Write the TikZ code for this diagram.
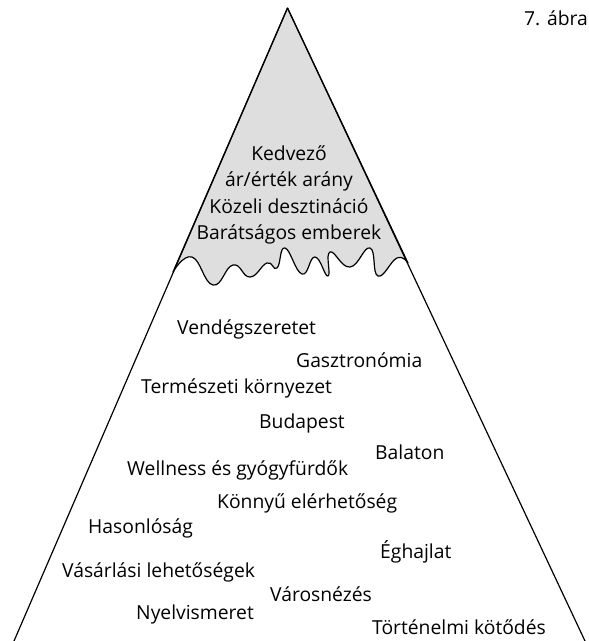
\documentclass[tikz,border=0pt]{standalone}
\usepackage{fontspec}
\setmainfont{Open Sans}
\definecolor{capgray}{HTML}{DEDEDE}
\begin{document}
\begin{tikzpicture}[x=1pt,y=-1pt,
  lbl/.style={anchor=west, inner sep=0pt, font=\fontsize{19.3}{22}\selectfont},
  captext/.style={align=center, inner sep=0pt, font=\fontsize{19.3}{26.5}\selectfont},
  edge/.style={line width=1.2pt, line join=round}]
\useasboundingbox (0,0) rectangle (589,641);
\coordinate (apex) at (287.5,8);
\coordinate (bl) at (14,641);
\coordinate (br) at (585,641);
\coordinate (wl) at (173,272);
\coordinate (wr) at (408,263);
\filldraw[fill=capgray, edge] (apex) -- (wl) -- plot[smooth, tension=0.8] coordinates {
  (173,272) (192,257) (213,285) (233,265) (250,277) (267,263) (277,268) (285,248)
  (302,274) (315,257) (328,276) (330,252) (350,267) (370,248) (378,276) (397,258) (408,263)} -- cycle;
\draw[edge] (apex) -- (bl);
\draw[edge] (apex) -- (br);
\node[captext] (top) at (289,195) {Kedvező\\ár/érték arány\\Közeli desztináció\\Barátságos emberek};
\node[lbl] (fig) at (524,18) {7. ábra};
\node[lbl] (n1) at (177,329) {Vendégszeretet};
\node[lbl] (n2) at (296,360) {Gasztronómia};
\node[lbl] (n3) at (141,388) {Természeti környezet};
\node[lbl] (n4) at (259,423) {Budapest};
\node[lbl] (n5) at (375,452) {Balaton};
\node[lbl] (n6) at (127,470) {Wellness és gyógyfürdők};
\node[lbl] (n7) at (217,503) {Könnyű elérhetőség};
\node[lbl] (n8) at (88,528) {Hasonlóság};
\node[lbl] (n9) at (380,552) {Éghajlat};
\node[lbl] (n10) at (62,572) {Vásárlási lehetőségek};
\node[lbl] (n11) at (270,594) {Városnézés};
\node[lbl] (n12) at (136,614) {Nyelvismeret};
\node[lbl] (n13) at (372,627) {Történelmi kötődés};
\end{tikzpicture}
\end{document}
